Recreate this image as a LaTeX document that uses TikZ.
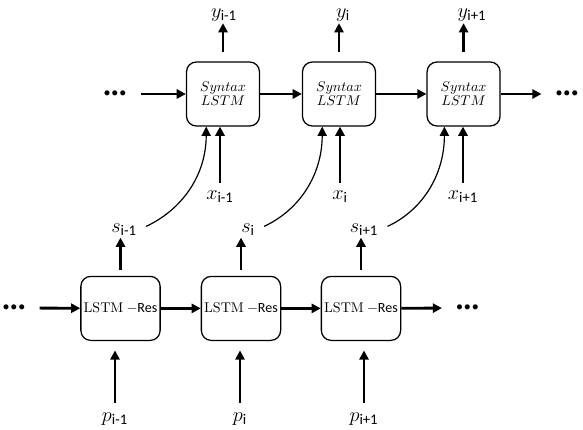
\documentclass[tikz,border=0pt]{standalone}
\usepackage{amsmath}
\usepackage{fontspec}
\setmainfont{Carlito}
\newfontfamily\lmserif{Latin Modern Roman}
\usetikzlibrary{arrows.meta}

\begin{document}
\begin{tikzpicture}[
    cell/.style={
      draw, rounded corners=7pt, line width=0.9pt,
      minimum width=1.825cm, minimum height=1.6cm,
      align=center, inner sep=2pt
    },
    lbl/.style={font=\fontsize{15}{18}\selectfont, inner sep=1pt},
    dots/.style={font=\small, inner xsep=10pt, inner ysep=0pt},
    arr/.style={line width=2pt, -{Triangle[length=6.5pt,width=6.5pt]}},
    curvearr/.style={line width=0.85pt, shorten <=6pt, -{Triangle[length=6.5pt,width=6.5pt]}}
  ]
  \useasboundingbox (0,0) rectangle (14.575,10.75);

  \node[cell] (syn1) at (5.575,8.4) {$Syntax$\\[-2pt]$LSTM$};
  \node[cell] (syn2) at (8.475,8.4) {$Syntax$\\[-2pt]$LSTM$};
  \node[cell] (syn3) at (11.59,8.4) {$Syntax$\\[-2pt]$LSTM$};

  \node[cell] (res1) at (3.0125,3.04) {{\lmserif LSTM} $-$Res};
  \node[cell] (res2) at (6.025,3.04) {{\lmserif LSTM} $-$Res};
  \node[cell] (res3) at (9.025,3.04) {{\lmserif LSTM} $-$Res};

  \node[dots] (dotsT1) at (2.875,8.4) {${\bullet}\mkern2mu{\bullet}\mkern2mu{\bullet}$};
  \node[dots] (dotsT2) at (14.175,8.4) {${\bullet}\mkern2mu{\bullet}\mkern2mu{\bullet}$};
  \node[dots] (dotsB1) at (0.35,3.05) {${\bullet}\mkern2mu{\bullet}\mkern2mu{\bullet}$};
  \node[dots] (dotsB2) at (11.6875,3.05) {${\bullet}\mkern2mu{\bullet}\mkern2mu{\bullet}$};

  \node[lbl] (yl1) at (5.6,10.37) {$y_{\text{i-1}}$};
  \node[lbl] (yl2) at (8.575,10.37) {$y_{\text{i}}$};
  \node[lbl] (yl3) at (11.8,10.37) {$y_{\text{i+1}}$};

  \node[lbl] (xl1) at (5.5,5.84) {$x_{\text{i-1}}$};
  \node[lbl] (xl2) at (8.5,5.84) {$x_{\text{i}}$};
  \node[lbl] (xl3) at (11.575,5.84) {$x_{\text{i+1}}$};

  \node[lbl] (sl1) at (3.1,5.0) {$s_{\text{i-1}}$};
  \node[lbl] (sl2) at (6.2,5.0) {$s_{\text{i}}$};
  \node[lbl] (sl3) at (9.1,5.0) {$s_{\text{i+1}}$};

  \node[lbl] (pl1) at (2.875,0.27) {$p_{\text{i-1}}$};
  \node[lbl] (pl2) at (6.0,0.27) {$p_{\text{i}}$};
  \node[lbl] (pl3) at (9.1,0.27) {$p_{\text{i+1}}$};

  \draw[arr] (dotsT1) -- (syn1);
  \draw[arr] (syn1) -- (syn2);
  \draw[arr] (syn2) -- (syn3);
  \draw[arr] (syn3) -- (dotsT2);

  \draw[arr] (dotsB1) -- (res1);
  \draw[arr] (res1) -- (res2);
  \draw[arr] (res2) -- (res3);
  \draw[arr] (res3) -- (dotsB2);

  \draw[arr, shorten <=6.4pt] (syn1.north) -- (syn1.north |- yl1.south);
  \draw[arr, shorten <=6.4pt] (syn2.north) -- (syn2.north |- yl2.south);
  \draw[arr, shorten <=6.4pt] (syn3.north) -- (syn3.north |- yl3.south);

  \draw[arr, shorten <=4pt] (xl1.north) -- (xl1.north |- syn1.south);
  \draw[arr, shorten <=4pt] (xl2.north) -- (xl2.north |- syn2.south);
  \draw[arr, shorten <=4pt] (xl3.north) -- (xl3.north |- syn3.south);

  \draw[arr, shorten <=4.3pt] (res1.north) -- (res1.north |- sl1.south);
  \draw[arr, shorten <=4.3pt] (res2.north) -- (res2.north |- sl2.south);
  \draw[arr, shorten <=4.3pt] (res3.north) -- (res3.north |- sl3.south);

  \draw[arr, shorten <=6pt, shorten >=6.7pt] (pl1.north) -- (pl1.north |- res1.south);
  \draw[arr, shorten <=6pt, shorten >=6.7pt] (pl2.north) -- (pl2.north |- res2.south);
  \draw[arr, shorten <=6pt, shorten >=6.7pt] (pl3.north) -- (pl3.north |- res3.south);

  \draw[curvearr] (sl1.east) to[out=25, in=-90] ([xshift=-0.42cm]syn1.south);
  \draw[curvearr] (sl2.east) to[out=25, in=-90] ([xshift=-0.42cm]syn2.south);
  \draw[curvearr] (sl3.east) to[out=25, in=-90] ([xshift=-0.48cm]syn3.south);
\end{tikzpicture}
\end{document}
